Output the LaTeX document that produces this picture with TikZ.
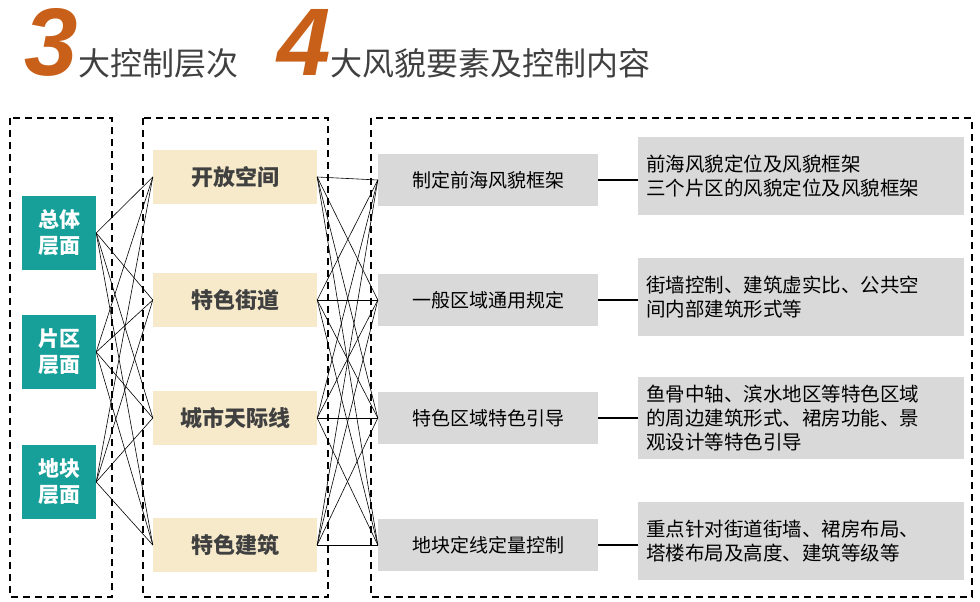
\documentclass[tikz,border=0pt]{standalone}
\usepackage{fontspec}
\setmainfont{Noto Sans CJK SC}
\newfontfamily\numfont{Liberation Sans}
\definecolor{tealc}{HTML}{17A09A}
\definecolor{beige}{HTML}{F6EACB}
\definecolor{grayc}{HTML}{D9D9D9}
\definecolor{orangec}{HTML}{C8601A}
\definecolor{txt}{HTML}{404040}
\tikzset{
  frame/.style={draw, dashed, line width=2pt, dash pattern=on 7pt off 5pt},
  level/.style={fill=tealc, text=white, font=\bfseries\fontsize{21}{26}\selectfont, minimum width=74pt, minimum height=74pt, inner sep=0pt, align=center},
  elem/.style={fill=beige, text=txt, font=\bfseries\fontsize{22}{26}\selectfont, minimum width=164pt, minimum height=54pt, inner sep=0pt},
  ctrl/.style={fill=grayc, text=black, font=\fontsize{19}{23}\selectfont, minimum width=220pt, minimum height=52pt, inner sep=0pt},
  desc/.style={fill=grayc, text=black, font=\fontsize{19.5}{24}\selectfont, minimum width=321pt, minimum height=78pt, inner sep=8pt, text width=310pt, align=left},
  link/.style={line width=0.6pt}
}
\begin{document}
\begin{tikzpicture}[x=1pt,y=-1pt]
\useasboundingbox (0,0) rectangle (980,602);
% titles
\node[anchor=base west, text=orangec, font=\numfont\bfseries\itshape\fontsize{96}{96}\selectfont, inner sep=0pt] (n3) at (24,76) {3};
\node[anchor=base west, text=txt, font=\fontsize{32}{34}\selectfont, inner sep=0pt] (t3) at (78,76) {大控制层次};
\node[anchor=base west, text=orangec, font=\numfont\bfseries\itshape\fontsize{96}{96}\selectfont, inner sep=0pt] (n4) at (277,76) {4};
\node[anchor=base west, text=txt, font=\fontsize{32}{34}\selectfont, inner sep=0pt] (t4) at (330,76) {大风貌要素及控制内容};
% frames
\draw[frame] (10,118) rectangle (112,597);
\draw[frame] (143,118) rectangle (328,597);
\draw[frame] (371,118) rectangle (972,597);
% levels
\node[level] (l1) at (59,233) {总体\\层面};
\node[level] (l2) at (59,352) {片区\\层面};
\node[level] (l3) at (59,482) {地块\\层面};
% elements
\node[elem] (e1) at (235,177) {开放空间};
\node[elem] (e2) at (235,300) {特色街道};
\node[elem] (e3) at (235,418) {城市天际线};
\node[elem] (e4) at (235,545) {特色建筑};
% controls
\node[ctrl] (c1) at (488,180) {制定前海风貌框架};
\node[ctrl] (c2) at (488,300) {一般区域通用规定};
\node[ctrl] (c3) at (488,418) {特色区域特色引导};
\node[ctrl] (c4) at (488,545) {地块定线定量控制};
% descriptions
\node[desc] (d1) at (801,176) {前海风貌定位及风貌框架\\三个片区的风貌定位及风貌框架};
\node[desc] (d2) at (801,297) {街墙控制、建筑虚实比、公共空\\间内部建筑形式等};
\node[desc] (d3) at (801,418) {鱼骨中轴、滨水地区等特色区域\\的周边建筑形式、裙房功能、景\\观设计等特色引导};
\node[desc] (d4) at (801,541) {重点针对街道街墙、裙房布局、\\塔楼布局及高度、建筑等级等};
% links
\foreach \a in {1,2,3}
  \foreach \b in {1,2,3,4}
    \draw[link] (l\a.east) -- (e\b.west);
\foreach \a in {1,2,3,4}
  \foreach \b in {1,2,3,4}
    \draw[link] (e\a.east) -- (c\b.west);
\foreach \a in {1,2,3,4}
  \draw[line width=2.5pt] (c\a.east) -- (d\a.west |- c\a.east);
\end{tikzpicture}
\end{document}
